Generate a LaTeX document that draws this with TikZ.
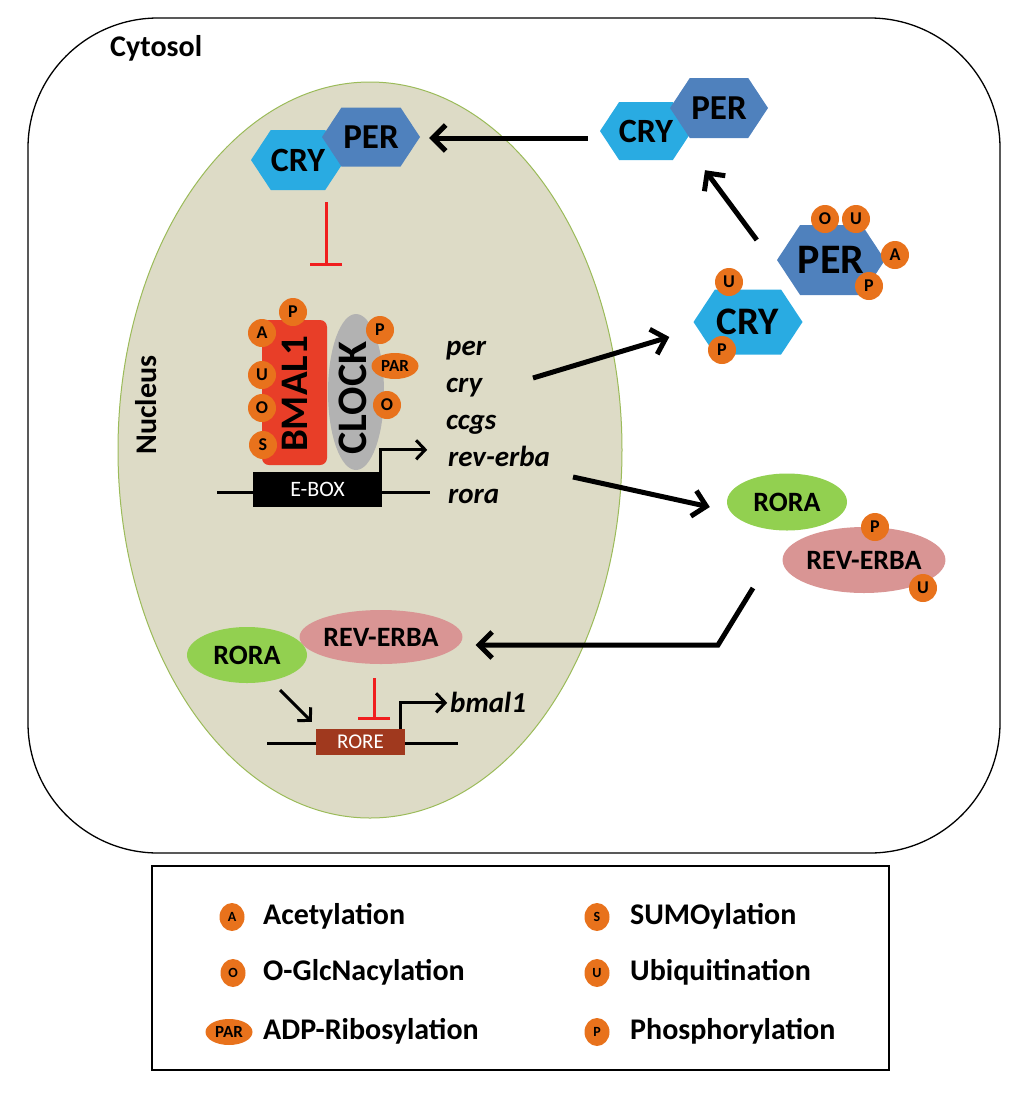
\documentclass[tikz,border=0pt]{standalone}
\usepackage{fontspec}
\setmainfont{Carlito}
\usetikzlibrary{arrows.meta,shapes.geometric}
\definecolor{cryc}{RGB}{41,171,226}
\definecolor{perc}{RGB}{79,129,189}
\definecolor{bmalc}{RGB}{232,62,40}
\definecolor{clockc}{RGB}{178,178,178}
\definecolor{rorac}{RGB}{146,208,80}
\definecolor{revc}{RGB}{217,149,148}
\definecolor{rorec}{RGB}{160,57,30}
\definecolor{modc}{RGB}{232,114,28}
\definecolor{nucf}{RGB}{221,219,198}
\definecolor{nucd}{RGB}{155,187,89}
\definecolor{inhc}{RGB}{240,30,30}
\newcommand\fsz[1]{\fontsize{#1}{#1}\selectfont}
\newcommand\hexa[8]{%
  \fill[#6] ({#2-#4/2},#3) -- ({#2-#4/2+0.33*#5},{#3-#5/2}) -- ({#2+#4/2-0.33*#5},{#3-#5/2}) -- ({#2+#4/2},#3) -- ({#2+#4/2-0.33*#5},{#3+#5/2}) -- ({#2-#4/2+0.33*#5},{#3+#5/2}) -- cycle;
  \node[minimum width=#4pt, minimum height=#5pt, inner sep=0pt, font=\bfseries\fsz{#7}] (#1) at (#2,#3) {#8};}
\begin{document}
\begin{tikzpicture}[x=1pt,y=-1pt,
  mod/.style={circle, fill=modc, inner sep=0pt, minimum size=28pt, font=\bfseries\fsz{18}},
  modpar/.style={ellipse, fill=modc, inner sep=0pt, minimum width=47pt, minimum height=26pt, font=\bfseries\fsz{17}},
  legicon/.style={ellipse, fill=modc, inner sep=0pt, minimum width=25pt, minimum height=28pt, font=\bfseries\fsz{14}},
  legtxt/.style={anchor=base west, inner sep=0pt, font=\bfseries\fsz{30}},
  arr/.style={line width=5pt, -{Straight Barb[length=13pt,width=26pt]}},
  sarr/.style={line width=3pt, -{Straight Barb[length=9pt,width=19pt]}},
  inh/.style={draw=inhc, line width=3pt, -{Bar[width=32pt]}},
  prot/.style={ellipse, inner sep=0pt, font=\bfseries\fsz{28}},
  gene/.style={anchor=base west, font=\bfseries\itshape\fsz{29}, inner sep=0pt},
  dna/.style={line width=3pt},
]
\useasboundingbox (0,0) rectangle (1024,1093);
% cytosol
\draw[line width=1.3pt, rounded corners=130pt] (28,18) rectangle (1000,853);
\node[font=\bfseries\fsz{30}, anchor=base west, inner sep=0pt] (cyt) at (110,56) {Cytosol};
% nucleus
\node[ellipse, draw=nucd, fill=nucf, line width=1pt, minimum width=504pt, minimum height=736pt, inner sep=0pt] (nuc) at (370,450) {};
\node[rotate=90, font=\bfseries\fsz{30}] (nuclab) at (146,405) {Nucleus};
% nuclear CRY/PER
\hexa{cryN}{298}{160}{94}{60}{cryc}{34}{CRY}
\hexa{perN}{371}{137}{98}{59}{perc}{35}{PER}
% cytosolic CRY/PER
\hexa{cryT}{646}{131}{92}{58}{cryc}{34}{CRY}
\hexa{perT}{719}{108}{98}{60}{perc}{35}{PER}
% modified PER and CRY
\hexa{perM}{831}{260}{108}{70}{perc}{42}{PER}
\node[mod] (pmO) at (825,219) {O};
\node[mod] (pmU) at (856,219) {U};
\node[mod] (pmA) at (895,255) {A};
\node[mod] (pmP) at (869,286) {P};
\hexa{cryM}{748}{322}{109}{65}{cryc}{39}{CRY}
\node[mod] (cmU) at (729,282) {U};
\node[mod] (cmP) at (722,350) {P};
% BMAL1 / CLOCK
\node[fill=bmalc, rounded corners=7pt, minimum width=65pt, minimum height=145pt, inner sep=0pt] (bmalbox) at (294.5,392.5) {};
\node[ellipse, fill=clockc, minimum width=56pt, minimum height=156pt, inner sep=0pt] (clock) at (356,392) {};
\node[rotate=90, font=\bfseries\fsz{39}] (bmaltxt) at (295,394) {BMAL1};
\node[rotate=90, font=\bfseries\fsz{42}] (clocktxt) at (353,398) {CLOCK};
\node[mod] (bP) at (293,312) {P};
\node[mod] (bA) at (262,333) {A};
\node[mod] (bU) at (262,375) {U};
\node[mod] (bO) at (262,408) {O};
\node[mod] (bS) at (263,445) {S};
\node[mod] (kP) at (380,330) {P};
\node[modpar] (kPAR) at (395,366) {PAR};
\node[mod] (kO) at (387,405) {O};
% E-box
\draw[dna] (217,492) -- (430,492);
\node[fill=black, text=white, minimum width=129pt, minimum height=35pt, inner sep=0pt, font=\fsz{22}] (ebox) at (317.5,489.5) {E-BOX};
\draw[sarr] ([xshift=-2pt]ebox.north east) |- ++(47,-22);
% genes
\node[gene] (gper) at (446,355) {per};
\node[gene] (gcry) at (446,392) {cry};
\node[gene] (gccgs) at (446,429) {ccgs};
\node[gene] (grev) at (448,466) {rev-erba};
\node[gene] (grora) at (448,503) {rora};
% cytosolic RORA / REV-ERBA
\node[prot, fill=rorac, minimum width=120pt, minimum height=57pt] (roraR) at (787,502) {RORA};
\node[prot, fill=revc, minimum width=162pt, minimum height=66pt] (revR) at (864,560) {REV-ERBA};
\node[mod] (rP) at (875,527) {P};
\node[mod] (rU) at (923,588) {U};
% nuclear REV-ERBA / RORA
\node[prot, fill=revc, minimum width=162pt, minimum height=54pt] (revN) at (381,637) {REV-ERBA};
\node[prot, fill=rorac, minimum width=120pt, minimum height=56pt] (roraN) at (247,655) {RORA};
% RORE
\draw[dna] (267,743) -- (458,743);
\node[fill=rorec, text=white, minimum width=89pt, minimum height=26pt, inner sep=0pt, font=\fsz{21}] (rore) at (360.5,742) {RORE};
\draw[sarr] ([xshift=-5pt]rore.north east) |- ++(47,-26);
\node[gene] (gbmal) at (450,712) {bmal1};
\draw[sarr] ([shift={(33,35)}]roraN.center) -- ([shift={(-4,-7)}]rore.north west);
% inhibitions
\draw[inh] ([shift={(28,12)}]cryN.south) -- ([shift={(31.5,-54)}]bmalbox.north);
\draw[inh] ([shift={(-7,14)}]revN.south) -- ([shift={(13.5,-9)}]rore.north);
% main arrows
\coordinate (a1s) at (533,378);
\draw[arr] (a1s) -- ([shift={(-24,15)}]cryM.west);
\draw[arr] ([shift={(-12,7)}]cryT.west) -- ([shift={(9,1)}]perN.east);
\draw[arr] ([shift={(-20,-20)}]perM.west) -- ([shift={(-14,32)}]perT.south);
\coordinate (a4s) at (573,477);
\draw[arr] (a4s) -- ([shift={(-17,5)}]roraR.west);
\coordinate (a5s) at (753,588);
\draw[arr] (a5s) -- (718,645) -- ([shift={(13,8)}]revN.east);
% legend
\node[draw, line width=1.3pt, minimum width=737pt, minimum height=204pt, inner sep=0pt] (legend) at (520.5,968) {};
\node[legicon] (lA) at (232,917) {A};
\node[legtxt] (tA) at (263,924) {Acetylation};
\node[legicon] (lO) at (233,973) {O};
\node[legtxt] (tO) at (263,980) {O-GlcNacylation};
\node[modpar] (lPAR) at (229,1032) {PAR};
\node[legtxt] (tPAR) at (263,1039) {ADP-Ribosylation};
\node[legicon] (lS) at (597,917) {S};
\node[legtxt] (tS) at (630,924) {SUMOylation};
\node[legicon] (lU) at (597,973) {U};
\node[legtxt] (tU) at (630,980) {Ubiquitination};
\node[legicon] (lP) at (597,1032) {P};
\node[legtxt] (tP) at (630,1039) {Phosphorylation};
\end{tikzpicture}
\end{document}
